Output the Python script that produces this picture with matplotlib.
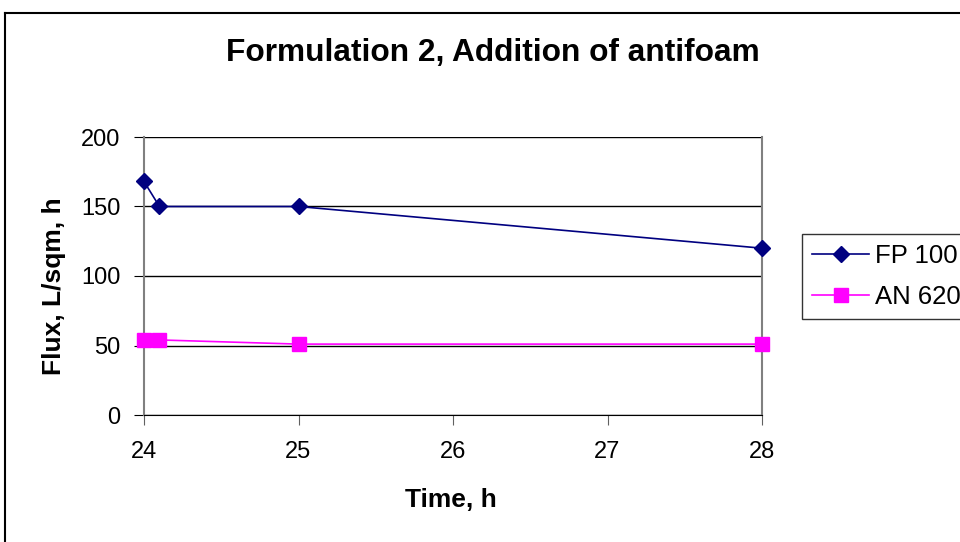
import matplotlib.pyplot as plt
from matplotlib.lines import Line2D

plt.rcParams["font.family"] = ["Liberation Sans", "DejaVu Sans"]

time_h = [24, 24.1, 25, 28]
fp_100 = [168, 150, 150, 120]
an_620 = [54, 54, 51, 51]

W, H = 960, 542
fig = plt.figure(figsize=(9.6, 5.42), dpi=100)

# outer chart frame (cut off at right and bottom)
fig.add_artist(Line2D([5 / W, 5 / W], [0, 1 - 13 / H], color="black", lw=1.5))
fig.add_artist(Line2D([5 / W, 1], [1 - 13 / H, 1 - 13 / H], color="black", lw=1.5))

ax = fig.add_axes([144 / W, 1 - 415 / H, (762 - 144) / W, (415 - 137) / H])
ax.plot(time_h, fp_100, color="#000080", marker="D", markersize=8, lw=1.2,
        label="FP 100", clip_on=False, zorder=3)
ax.plot(time_h, an_620, color="#FF00FF", marker="s", markersize=10, lw=1.2,
        label="AN 620", clip_on=False, zorder=3)

ax.set_xlim(24, 28)
ax.set_ylim(0, 200)
ax.set_xticks([24, 25, 26, 27, 28])
ax.set_yticks([0, 50, 100, 150, 200])
ax.yaxis.grid(True, color="black", lw=1)
ax.set_axisbelow(True)
ax.spines["top"].set_visible(False)
for side in ["left", "right"]:
    ax.spines[side].set_color("#808080")
    ax.spines[side].set_linewidth(1.5)
ax.spines["bottom"].set_color("black")
ax.tick_params(axis="y", direction="out", length=7, labelsize=17, pad=10, color="black")
ax.tick_params(axis="x", direction="out", length=7, labelsize=17, pad=12, color="#606060")

fig.text(493 / W, 1 - 53 / H, "Formulation 2, Addition of antifoam",
         fontsize=22.8, fontweight="bold", ha="center", va="center")
ax.set_xlabel("Time, h", fontsize=19, fontweight="bold")
ax.set_ylabel("Flux, L/sqm, h", fontsize=19, fontweight="bold")
ax.xaxis.set_label_coords(451 / W, 1 - 500 / H, transform=fig.transFigure)
ax.yaxis.set_label_coords(54 / W, 1 - 286 / H, transform=fig.transFigure)
ax.xaxis.label.set_va("center")
ax.yaxis.label.set_va("center")

leg = ax.legend(loc="upper left", bbox_to_anchor=(802 / W, 1 - 234 / H),
                bbox_transform=fig.transFigure, fontsize=18.5, frameon=True,
                fancybox=False, edgecolor="black", borderpad=0.4,
                handlelength=2.2, labelspacing=0.65, handletextpad=0.25,
                borderaxespad=0)
leg.get_frame().set_linewidth(1)

fig.savefig("out.png", dpi=100)
